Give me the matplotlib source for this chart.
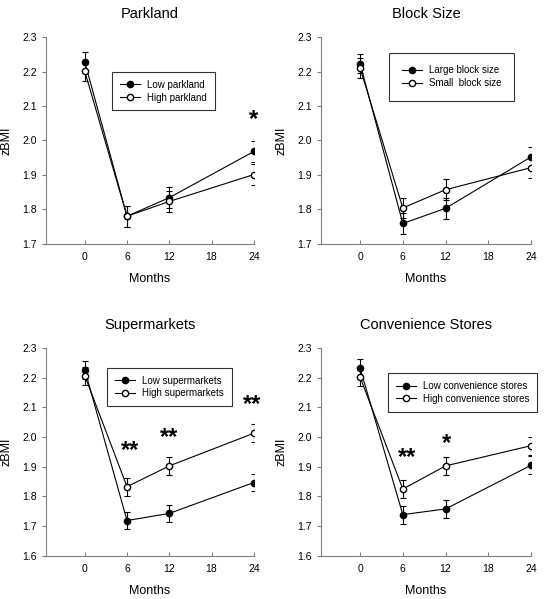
import numpy as np
import matplotlib
matplotlib.use('Agg')
import matplotlib.pyplot as plt
from matplotlib.lines import Line2D
from matplotlib.ticker import FormatStrFormatter

plt.rcParams['font.family'] = ['Liberation Sans', 'DejaVu Sans']

months = [0, 6, 12, 24]

# Parkland
park_low = [2.228, 1.780, 1.834, 1.968]
park_high = [2.201, 1.780, 1.823, 1.901]
park_err = [0.029, 0.03, 0.03, 0.03]

# Block size
block_large = [2.223, 1.759, 1.803, 1.952]
block_small = [2.210, 1.804, 1.857, 1.921]
block_err = [0.028, 0.03, 0.03, 0.03]

# Supermarkets
super_low = [2.227, 1.719, 1.743, 1.847]
super_high = [2.207, 1.833, 1.903, 2.013]
super_err = [0.03, 0.03, 0.03, 0.03]

# Convenience stores
conv_low = [2.232, 1.739, 1.758, 1.905]
conv_high = [2.202, 1.825, 1.903, 1.971]
conv_err = [0.03, 0.03, 0.03, 0.03]

panels = [
    dict(title='Parkland', low=park_low, high=park_high, err=park_err,
         labels=['Low parkland', 'High parkland'], ylim=(1.7, 2.3),
         stars=[(24, 2.06, '*')],
         rect=[0.0846, 0.593, 0.382, 0.345], leg=(0.206, 0.880), bp=0.8),
    dict(title='Block Size', low=block_large, high=block_small, err=block_err,
         labels=['Large block size', 'Small  block size'], ylim=(1.7, 2.3),
         stars=[],
         rect=[0.590, 0.593, 0.386, 0.345], leg=(0.715, 0.912), bp=1.3),
    dict(title='Supermarkets', low=super_low, high=super_high, err=super_err,
         labels=['Low supermarkets', 'High supermarkets'], ylim=(1.6, 2.3),
         stars=[(6.5, 1.955, '**'), (11.9, 1.998, '**'), (23.8, 2.11, '**')],
         rect=[0.0846, 0.072, 0.382, 0.347], leg=(0.197, 0.386), bp=0.8),
    dict(title='Convenience Stores', low=conv_low, high=conv_high, err=conv_err,
         labels=['Low convenience stores', 'High convenience stores'], ylim=(1.6, 2.3),
         stars=[(6.6, 1.93, '**'), (12.2, 1.98, '*')],
         rect=[0.590, 0.072, 0.386, 0.347], leg=(0.713, 0.377), bp=0.8),
]

fig = plt.figure(figsize=(5.44, 5.99), dpi=100)
spine_col = '#7f7f7f'

for p in panels:
    ax = fig.add_axes(p['rect'])
    ax.errorbar(months, p['low'], yerr=p['err'], color='black', lw=0.8,
                marker='o', ms=4.5, mfc='black', mec='black', capsize=2.5,
                elinewidth=0.8, capthick=0.8, zorder=3)
    ax.errorbar(months, p['high'], yerr=p['err'], color='black', lw=0.8,
                marker='o', ms=4.5, mfc='white', mec='black', capsize=2.5,
                elinewidth=0.8, capthick=0.8, zorder=4)
    for x, y, s in p['stars']:
        ax.text(x, y, s, ha='center', va='center', fontsize=17,
                fontweight='bold')
    ax.set_xlim(-5.5, 24)
    ax.set_ylim(*p['ylim'])
    ax.set_xticks([0, 6, 12, 18, 24])
    ax.set_yticks(np.arange(p['ylim'][0], 2.301, 0.1))
    ax.yaxis.set_major_formatter(FormatStrFormatter('%.1f'))
    ax.tick_params(axis='x', direction='in', length=3, labelsize=7.5, pad=6,
                   color=spine_col)
    ax.tick_params(axis='y', direction='out', length=3, labelsize=7.5,
                   color=spine_col)
    for s in ['top', 'right']:
        ax.spines[s].set_visible(False)
    for s in ['left', 'bottom']:
        ax.spines[s].set_color(spine_col)
        ax.spines[s].set_linewidth(0.8)
    ax.set_title(p['title'], fontsize=10.5, pad=14)
    ax.set_xlabel('Months', fontsize=9, labelpad=8)
    ax.set_ylabel('zBMI', fontsize=9, labelpad=7)
    handles = [
        Line2D([], [], color='black', lw=0.8, marker='o', ms=4.5,
               mfc='black', mec='black'),
        Line2D([], [], color='black', lw=0.8, marker='o', ms=4.5,
               mfc='white', mec='black'),
    ]
    leg = ax.legend(handles, p['labels'], loc='upper left',
                    bbox_to_anchor=p['leg'], bbox_transform=fig.transFigure,
                    fontsize=7, frameon=True, fancybox=False,
                    edgecolor='black', handlelength=2.1, borderpad=p['bp'],
                    labelspacing=0.3, handletextpad=0.7, borderaxespad=0)
    leg.get_frame().set_linewidth(0.8)

fig.savefig('out.png', dpi=100)
